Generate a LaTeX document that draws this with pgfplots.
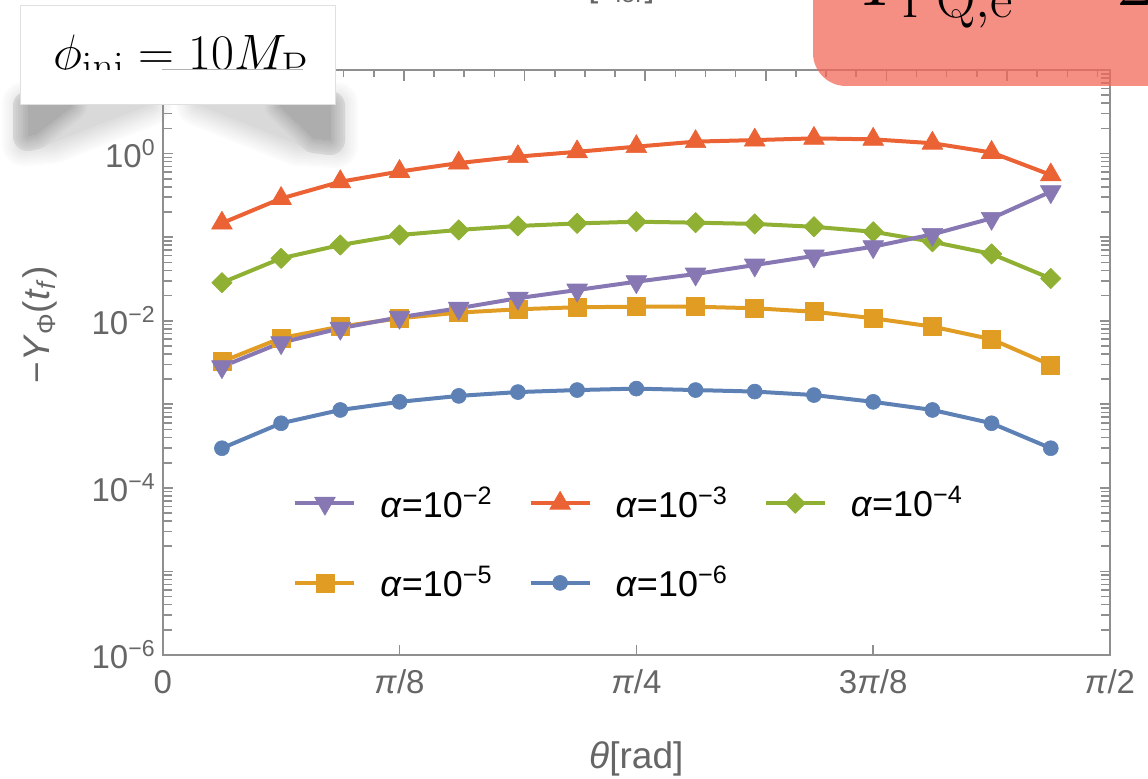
\RequirePackage{fix-cm}
\documentclass[border=0pt]{standalone}
\usepackage[no-math]{fontspec}
\setmainfont{Liberation Sans}
\usepackage{pgfplots}
\usepackage{pgfplotstable}
\pgfplotsset{compat=1.18}

% Mathematica 97 default palette
\definecolor{mBlue}{rgb}{0.368417,0.506779,0.709798}
\definecolor{mOrange}{rgb}{0.880722,0.611041,0.142051}
\definecolor{mGreen}{rgb}{0.560181,0.691569,0.194885}
\definecolor{mRed}{rgb}{0.922526,0.385626,0.209179}
\definecolor{mPurple}{rgb}{0.528488,0.470624,0.701351}
\definecolor{framegray}{HTML}{8F8F8F}
\definecolor{labgray}{HTML}{666666}
\definecolor{salmon}{HTML}{F2685A}

% theta in rad (k*pi/32), -Y_Phi(t_f) for alpha = 1e-2 ... 1e-6
\pgfplotstableread{
x       a2       a3      a4      a5       a6
0.0982  2.82e-3  0.147   0.0285  3.24e-3  2.98e-4
0.1963  5.46e-3  0.290   0.0558  6.2e-3   5.93e-4
0.2945  8.12e-3  0.460   0.0805  8.5e-3   8.55e-4
0.3927  1.10e-2  0.610   0.106   1.07e-2  1.07e-3
0.4909  1.41e-2  0.770   0.122   1.25e-2  1.26e-3
0.5890  1.86e-2  0.920   0.136   1.37e-2  1.40e-3
0.6872  2.33e-2  1.05    0.146   1.45e-2  1.48e-3
0.7854  2.93e-2  1.21    0.153   1.47e-2  1.54e-3
0.8836  3.62e-2  1.39    0.149   1.47e-2  1.48e-3
0.9817  4.64e-2  1.45    0.144   1.41e-2  1.42e-3
1.0799  5.96e-2  1.52    0.133   1.28e-2  1.29e-3
1.1781  7.69e-2  1.48    0.116   1.07e-2  1.07e-3
1.2763  0.108    1.33    0.088   8.5e-3   8.55e-4
1.3744  0.168    1.03    0.063   6.0e-3   5.93e-4
1.4726  0.350    0.555   0.032   2.95e-3  2.98e-4
}\thetadata

\begin{document}
\begin{tikzpicture}
\useasboundingbox (0pt,0pt) rectangle (574pt,-389.5pt);
\clip (0pt,0pt) rectangle (574pt,-389.5pt);

% soft shadow under the caption card (drawn first, plot sits on top)
\begin{scope}[x=0.5pt,y=-0.5pt,line join=round]
  \foreach \w/\c in {44/1.5,39/3,34/4.5,29/6,24/7.5,19/9,14/10.5,9/12,4/13.5,0/15}{
    \filldraw[fill=black!\c,draw=black!\c,line width=\w*0.5pt]
      (24,104) -- (150,104) -- (52,142) -- (24,144) -- cycle;
    \filldraw[fill=black!\c,draw=black!\c,line width=\w*0.5pt]
      (198,104) -- (336,104) -- (336,146) -- (298,144) -- cycle;
  }
  \foreach \w/\c in {30/17,25/19.5,20/22,15/24.5,10/27,5/29.5,0/32}{
    \filldraw[fill=black!\c,draw=black!\c,line width=\w*0.5pt]
      (28,106) -- (72,106) -- (36,134) -- (28,136) -- cycle;
    \filldraw[fill=black!\c,draw=black!\c,line width=\w*0.5pt]
      (280,106) -- (330,106) -- (330,140) -- (314,138) -- cycle;
  }
\end{scope}

% unlabeled numeric ticks along the top frame
\begin{axis}[
  at={(81.35pt,-327.5pt)}, anchor=south west,
  scale only axis, width=473.65pt, height=292.5pt,
  xmin=0, xmax=1.570796, ymin=0, ymax=1,
  axis x line*=top, axis y line=none,
  x axis line style={draw=framegray,line width=1pt,-},
  tick align=inside,
  xtick={0,0.2,0.4,0.6,0.8,1.0,1.2,1.4},
  minor xtick={0.05,0.1,0.15,0.25,0.3,0.35,0.45,0.5,0.55,0.65,0.7,0.75,0.85,0.9,0.95,1.05,1.1,1.15,1.25,1.3,1.35,1.45,1.5,1.55},
  xticklabels={},
  major tick length=5.5pt, minor tick length=3.4pt,
  every tick/.append style={draw=framegray,line width=0.8pt},
]
\end{axis}

\begin{axis}[
  at={(81.35pt,-327.5pt)}, anchor=south west,
  scale only axis, width=473.65pt, height=292.5pt,
  xmin=0, xmax=1.570796,
  ymode=log, ymin=1e-6, ymax=10,
  axis line style={draw=framegray,line width=1pt},
  every tick/.append style={draw=framegray,line width=0.8pt},
  major tick length=5pt, minor tick length=4.5pt,
  tick align=inside,
  xtick pos=left,
  xtick={0,0.392699,0.785398,1.178097,1.570796},
  xticklabels={0,\textit{π}/8,\textit{π}/4,3\textit{π}/8,\textit{π}/2},
  ytick={1e-6,1e-5,1e-4,1e-3,1e-2,1e-1,1,10},
  yticklabels={10\textsuperscript{−6},,10\textsuperscript{−4},,10\textsuperscript{−2},,10\textsuperscript{0},},
  minor ytick={2e-6,3e-6,4e-6,5e-6,6e-6,7e-6,8e-6,9e-6,
               2e-5,3e-5,4e-5,5e-5,6e-5,7e-5,8e-5,9e-5,
               2e-4,3e-4,4e-4,5e-4,6e-4,7e-4,8e-4,9e-4,
               2e-3,3e-3,4e-3,5e-3,6e-3,7e-3,8e-3,9e-3,
               2e-2,3e-2,4e-2,5e-2,6e-2,7e-2,8e-2,9e-2,
               0.2,0.3,0.4,0.5,0.6,0.7,0.8,0.9,
               2,3,4,5,6,7,8,9},
  ticklabel style={font=\fontsize{16.5}{19}\selectfont, text=labgray},
  xticklabel style={yshift=-4pt},
  xlabel={\textit{θ}[rad]},
  ylabel={−\textit{Y}\textsubscript{Φ}(\textit{t}\textsubscript{\textit{f}})},
  label style={font=\fontsize{18.5}{22}\selectfont, text=labgray},
  xlabel style={at={(axis description cs:0.5,-0.178)}, anchor=center},
  ylabel style={at={(axis description cs:-0.1295,0.564)}, anchor=center},
  legend columns=3, reverse legend,
  legend style={at={(0.1376,0.2957)}, anchor=north west, draw=none, fill=none,
    inner sep=0pt, font=\fontsize{18}{21}\selectfont, text=black, row sep=19pt,
    /tikz/every even column/.append style={column sep=16pt},
    /tikz/every odd column/.append style={column sep=10pt}},
  legend image code/.code={\draw[mark repeat=2,mark phase=2]
    plot coordinates {(0pt,0pt)(14.75pt,0pt)(29.5pt,0pt)};},
  every axis plot/.append style={line width=2pt, line join=round},
]
\addplot[color=mBlue, mark=*, mark size=3.75pt, mark options={line width=0.3pt}]
  table[x=x,y=a6]{\thetadata};
\addlegendentry{\textit{α}=10\textsuperscript{−6}}
\addplot[color=mOrange, mark=square*, mark size=4.5pt, mark options={line width=0.3pt}]
  table[x=x,y=a5]{\thetadata};
\addlegendentry{\textit{α}=10\textsuperscript{−5}}
\addplot[color=mGreen, mark=square*, mark size=3.6pt, mark options={rotate=45,line width=0.3pt}]
  table[x=x,y=a4]{\thetadata};
\addlegendentry{\textit{α}=10\textsuperscript{−4}}
\addplot[color=mRed, mark=triangle*, mark size=6pt, mark options={line width=0.3pt}]
  table[x=x,y=a3]{\thetadata};
\addlegendentry{\textit{α}=10\textsuperscript{−3}}
\addplot[color=mPurple, mark=triangle*, mark size=6pt, mark options={rotate=180,line width=0.3pt}]
  table[x=x,y=a2]{\thetadata};
\addlegendentry{\textit{α}=10\textsuperscript{−2}}
\end{axis}

% slide annotations around the plot
\begin{scope}[x=0.5pt,y=-0.5pt]
  % caption card
  \fill[white] (20,5) rectangle (335,104);
  \draw[black!12,line width=0.4pt] (20,5) rectangle (335,104);
  \begin{scope}
    \clip (20,5) rectangle (335,69.3);
    \node[anchor=base west,inner sep=0pt,font=\fontsize{24.88}{28}\selectfont]
      at (53,70) {$\phi_{\mathrm{ini}} = 10M_{\mathrm{P}}$};
  \end{scope}
  \draw[black!30,line width=0.7pt] (162,69.5) -- (303,69.5);
  % highlighted result box
  \fill[salmon,opacity=0.75,rounded corners=16.5pt] (813,-80) rectangle (1220,86);
  \node[anchor=base west,inner sep=0pt,font=\fontsize{39}{44}\selectfont]
    at (857,6) {$Y_{\mathrm{PQ,e}}\sim 2$};
  % axis label of the panel above
  \node[anchor=base west,inner sep=0pt,text=labgray,font=\fontsize{18}{22}\selectfont]
    at (588,-3) {[\textit{t}\,\textsubscript{ler}]};
\end{scope}
\end{tikzpicture}
\end{document}
